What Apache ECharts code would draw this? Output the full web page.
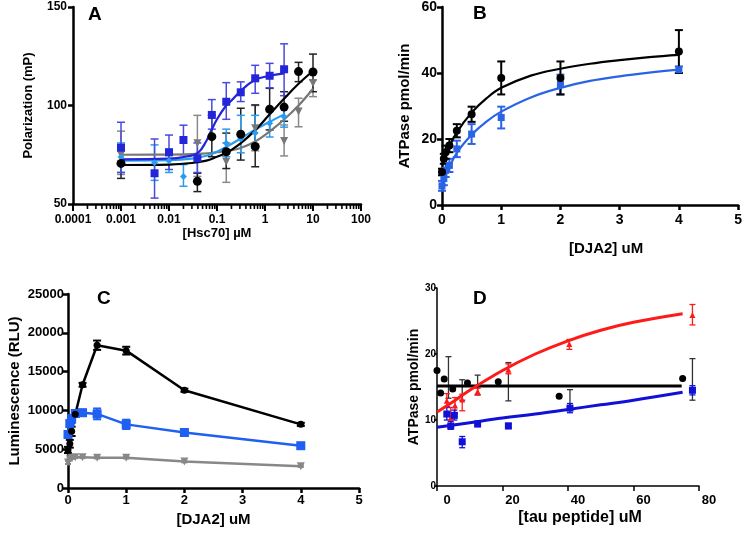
<!DOCTYPE html>
<html><head><meta charset="utf-8">
<script src="https://cdn.jsdelivr.net/npm/echarts@6/dist/echarts.min.js"></script>
<style>html,body{margin:0;padding:0;background:#fff}#c{width:745px;height:538px}</style>
</head><body><div id="c"></div>
<script>
// ---------- Panel A : Polarization vs [Hsc70] ----------
const aTickLabels = ['0.0001','0.001','0.01','0.1','1','10','100'];
const aMinorTicks = [0.0002,0.0003,0.0004,0.0005,0.0006,0.0007,0.0008,0.0009,
  0.002,0.003,0.004,0.005,0.006,0.007,0.008,0.009,
  0.02,0.03,0.04,0.05,0.06,0.07,0.08,0.09,
  0.2,0.3,0.4,0.5,0.6,0.7,0.8,0.9,
  2,3,4,5,6,7,8,9, 20,30,40,50,60,70,80,90];
const aBlueX  = [0.001,0.005,0.01,0.02,0.039,0.078,0.156,0.3125,0.625,1.25,2.5];
const aBlueY  = [78.6,65.6,76.2,82.5,73.2,95.2,101.9,106.7,113.8,115.1,118.4];
const aBlueLo = [66,53,67.5,75,66,88,93,102,106.2,109,105];
const aBlueHi = [91.5,83,85,90,81,103,111.6,112,120.4,121.4,131.3];
const aLtX  = [0.001,0.005,0.01,0.02,0.156,0.3125,0.625,1.25,2.5];
const aLtY  = [73.8,71,72,64,80.8,83,86,91,94.3];
const aLtLo = [66,62,66,59,74,76,79,84,89];
const aLtHi = [81,80,78,70,88,95,95,97,99];
const aBlkX  = [0.001,0.039,0.078,0.156,0.3125,0.625,1.25,2.5,5,10];
const aBlkY  = [70.6,61.5,84.2,76.5,85.4,79.2,98.1,99.2,117.2,117];
const aBlkLo = [63,56.3,74,68,72.3,68.9,87.6,92,112.1,107];
const aBlkHi = [78,65.6,95,86,98.6,100.3,108.7,107,121.9,126.1];
const aGryX  = [0.001,0.039,0.156,0.625,2.5,5,10];
const aGryY  = [75,80.8,71.5,88.4,82,96.9,111.3];
const aGryLo = [65,64,61,77,74.4,89.2,104.5];
const aGryHi = [87,95,81,100,90.1,103.7,113];
// fitted curves
const aBlueFitX = [0.001,0.01,0.02,0.04,0.06,0.075,0.1,0.15,0.2,0.3,0.6,1.2,2.5];
const aBlueFitY = [72.7,73,73.8,76,82,87,93,99.5,102.5,107,112.8,115,116.3];
const aLtFitX = [0.001,0.01,0.03,0.06,0.1,0.2,0.3,0.6,1.2,2.5];
const aLtFitY = [72,72.2,73,74.5,76.5,80.5,83,87.5,91.5,95.5];
const aBlkFitX = [0.001,0.01,0.03,0.06,0.1,0.15,0.2,0.3,0.6,1.2,2.4,5,10];
const aBlkFitY = [69.8,70,70.8,72,74,75.7,77.5,80.5,87,95,103,111,117.5];
const aGryFitX = [0.001,0.01,0.05,0.1,0.2,0.3,0.6,1.2,2.4,5,10];
const aGryFitY = [75,75.1,75.6,76.3,77.3,78.3,81.5,86.5,92.5,100,108.5];

// ---------- Panel B : ATPase vs [DJA2] ----------
const bX = [0,0.03125,0.0625,0.125,0.25,0.5,1,2,4];
const bBlkY  = [10,14,16,18,22.5,27.5,38.5,38.5,46.5];
const bBlkEr = [1,1.5,2,2,2,2.3,5,5,6.5];
const bBluY  = [5.8,8,10.5,12,17,21.5,26.5,36.5,41];
const bBluEr = [1.5,2,2,2,2.5,3,3.3,3,1];
const bFitX = [0,0.05,0.1,0.25,0.5,0.75,1,1.5,2,2.5,3,3.5,4];
const bBlkFit = [12,14.5,16.8,22,28,32.3,35.5,39.2,41.3,42.8,43.9,44.8,45.5];
const bBluFit = [5.5,8,10.5,15.8,21.3,25.3,28.3,32.6,35.5,37.6,39,40.1,41];

// ---------- Panel C : Luminescence vs [DJA2] ----------
const cX = [0,0.03125,0.0625,0.125,0.25,0.5,1,2,4];
const cBlkY  = [4900,5700,7300,9500,13300,18400,17700,12600,8200];
const cBlkEr = [400,500,600,300,250,600,500,200,200];
const cBluY  = [6900,8300,8900,9600,9700,9550,8200,7150,5450];
const cBluEr = [300,400,500,400,400,700,600,300,300];
const cGryY  = [3300,3700,3900,3950,3950,3900,3900,3400,2800];
const cGryEr = [200,150,150,100,100,100,100,100,100];

// ---------- Panel D : ATPase vs [tau peptide] ----------
const dBlkX = [0,1.1,2.2,4.8,9.3,18.7,37.3,75];
const dBlkY = [17.5,14.1,16.2,14.7,15.6,15.8,13.6,16.3];
const dBlkErX  = [3.5,7.7,12.4,21.8,40.6,78];
const dBlkErLo = [13.3,13.0,13.8,12.9,11.5,13.0];
const dBlkErHi = [19.6,16.1,16.8,18.7,14.6,19.3];
const dRedX  = [3.0,4.2,5.5,7.7,12.4,21.8,40.4,78];
const dRedY  = [12.9,10.3,12.2,13.1,14.3,17.6,21.5,25.9];
const dRedLo = [11.9,8.7,11.0,11.4,13.8,17.0,20.7,24.4];
const dRedHi = [14.0,11.9,13.4,13.9,14.8,18.5,22.2,27.5];
const dBluX  = [3.0,4.2,5.3,7.7,12.4,21.8,40.6,78];
const dBluY  = [10.9,9.1,10.7,6.7,9.4,9.1,11.8,14.5];
const dBluLo = [10.0,8.6,10.0,5.8,9.0,8.7,11.1,13.8];
const dBluHi = [12.0,9.8,11.5,7.5,9.8,9.5,12.5,15.2];
const dBlkFitX = [0,74.7];
const dBlkFitY = [15.15,15.15];
const dRedFitX = [0,5,10,20,30,40,50,60,75];
const dRedFitY = [11.2,12.8,14.5,17.5,20,22,23.6,24.8,26.1];
const dBluFitX = [0,10,20,30,40,50,60,75];
const dBluFitY = [8.9,9.6,10.3,10.9,11.6,12.3,13,14.2];

// ---------- helpers ----------
const FONT = 'Liberation Sans';
const zip = (a,b) => a.map((v,i)=>[v,b[i]]);
const zip3 = (a,b,c) => a.map((v,i)=>[v,b[i],c[i]]);
function errSeries(gi, data, color, cap, lw){
  return {type:'custom', xAxisIndex:gi, yAxisIndex:gi, data, z:3, clip:false,
    encode:{x:0,y:[1,2]}, itemStyle:{color}, silent:true,
    renderItem:function(params, api){
      const x=api.value(0), lo=api.value(1), hi=api.value(2);
      const p1=api.coord([x,lo]), p2=api.coord([x,hi]);
      const st={stroke:color, lineWidth:lw};
      return {type:'group', children:[
        {type:'line', shape:{x1:p1[0],y1:p1[1],x2:p2[0],y2:p2[1]}, style:st},
        {type:'line', shape:{x1:p1[0]-cap,y1:p1[1],x2:p1[0]+cap,y2:p1[1]}, style:st},
        {type:'line', shape:{x1:p2[0]-cap,y1:p2[1],x2:p2[0]+cap,y2:p2[1]}, style:st}
      ]};
    }};
}
// minor ticks of the log axis, placed through the axis scale
function minorTickSeries(gi, values, yBase, len){
  return {type:'custom', xAxisIndex:gi, yAxisIndex:gi, data:values.map(v=>[v,yBase]), z:10, clip:false, silent:true,
    encode:{x:0,y:1},
    renderItem:function(params, api){
      const p=api.coord([api.value(0), api.value(1)]);
      return {type:'group', children:[
        {type:'line', shape:{x1:p[0],y1:p[1],x2:p[0],y2:p[1]+len}, style:{stroke:'#000', lineWidth:1.6}}]};
    }};
}
function pts(gi, data, color, symbol, size){
  return {type:'scatter', xAxisIndex:gi, yAxisIndex:gi, data, symbol, symbolSize:size,
    itemStyle:{color, opacity:1}, z:5, silent:true};
}
function curve(gi, data, color, lw){
  return {type:'line', xAxisIndex:gi, yAxisIndex:gi, data, smooth:0.4, showSymbol:false,
    symbol:'none', lineStyle:{color, width:lw}, z:4, silent:true};
}
function pmErr(x,y,e){ return x.map((v,i)=>[v,y[i]-e[i],y[i]+e[i]]); }

const BLUE_A='#2424d8', LT_A='#2b9bf0', GRY='#777777', BLK='#000000';
const BLUE_B='#2b63e6', BLUE_C='#1f5ff2', BLUE_D='#1010d6', RED_D='#ff1a1a';

function axisBase(lw){
  return {axisLine:{show:true, onZero:false, lineStyle:{color:'#000', width:lw}},
          axisTick:{show:true, length:5, lineStyle:{color:'#000', width:lw}},
          splitLine:{show:false}};
}
const plain = (v) => String(v);
const lab = (sz) => ({color:'#000', fontFamily:FONT, fontWeight:'bold', fontSize:sz, formatter:plain});
const nameStyle = (sz) => ({color:'#000', fontFamily:FONT, fontWeight:'bold', fontSize:sz});

const option = {
  animation:false,
  backgroundColor:'#fff',
  grid:[
    {left:73, top:7, width:288, height:197},
    {left:442, top:7, width:300, height:198},
    {left:68, top:294, width:291, height:194},
    {left:437, top:288, width:262, height:198}
  ],
  xAxis:[
    Object.assign(axisBase(2.5), {gridIndex:0, type:'log', logBase:10, min:0.0001, max:100,
      axisTick:{show:true, length:7, lineStyle:{color:'#000', width:2}},
      axisLabel:Object.assign(lab(12), {margin:10, formatter:(v)=>{const i=Math.round(Math.log10(v))+4; return aTickLabels[i]||'';}}),
      name:'[Hsc70] µM', nameLocation:'middle', nameGap:23, nameTextStyle:nameStyle(13)}),
    Object.assign(axisBase(2.5), {gridIndex:1, type:'value', min:0, max:5, interval:1,
      axisLabel:Object.assign(lab(14), {margin:8}),
      name:'[DJA2] uM', nameLocation:'middle', nameGap:36, nameTextStyle:Object.assign(nameStyle(15),{padding:[0,0,0,32]})}),
    Object.assign(axisBase(2.5), {gridIndex:2, type:'value', min:0, max:5, interval:1,
      axisLabel:Object.assign(lab(13), {margin:6}),
      name:'[DJA2] uM', nameLocation:'middle', nameGap:24, nameTextStyle:nameStyle(15)}),
    Object.assign(axisBase(1.5), {gridIndex:3, type:'value', min:0, max:80, interval:20,
      axisLabel:Object.assign(lab(13), {margin:8, padding:[0,0,0,20]}),
      name:'[tau peptide] uM', nameLocation:'middle', nameGap:24, nameTextStyle:Object.assign(nameStyle(16),{padding:[0,0,0,24]})})
  ],
  yAxis:[
    Object.assign(axisBase(2.5), {gridIndex:0, type:'value', min:50, max:150, interval:50,
      axisLabel:Object.assign(lab(12), {margin:6}),
      name:'Polarization (mP)', nameLocation:'middle', nameGap:38, nameTextStyle:nameStyle(13)}),
    Object.assign(axisBase(2.5), {gridIndex:1, type:'value', min:0, max:60, interval:20,
      axisLabel:Object.assign(lab(14), {margin:5}),
      name:'ATPase pmol/min', nameLocation:'middle', nameGap:30, nameTextStyle:nameStyle(15)}),
    Object.assign(axisBase(2.5), {gridIndex:2, type:'value', min:0, max:25000, interval:5000,
      axisLabel:Object.assign(lab(13), {margin:4}),
      name:'Luminescence (RLU)', nameLocation:'middle', nameGap:46, nameTextStyle:nameStyle(15)}),
    Object.assign(axisBase(1.5), {gridIndex:3, type:'value', min:0, max:30, interval:10,
      axisTick:{show:true, length:3, lineStyle:{color:'#000', width:1.5}},
      axisLabel:Object.assign(lab(10), {margin:1}),
      name:'ATPase pmol/min', nameLocation:'middle', nameGap:12, nameTextStyle:nameStyle(14)})
  ],
  graphic:[
    {type:'text', left:88, top:5, style:{text:'A', fontFamily:FONT, fontWeight:'bold', fontSize:19, fill:'#000'}},
    {type:'text', left:473, top:4, style:{text:'B', fontFamily:FONT, fontWeight:'bold', fontSize:19, fill:'#000'}},
    {type:'text', left:97, top:289, style:{text:'C', fontFamily:FONT, fontWeight:'bold', fontSize:19, fill:'#000'}},
    {type:'text', left:473, top:289, style:{text:'D', fontFamily:FONT, fontWeight:'bold', fontSize:19, fill:'#000'}}
  ],
  series:[
    // A
    minorTickSeries(0, aMinorTicks, 50, 5),
    errSeries(0, zip3(aGryX,aGryLo,aGryHi), '#8a8a8a', 4, 1.5),
    errSeries(0, zip3(aBlkX,aBlkLo,aBlkHi), '#222', 4, 1.5),
    errSeries(0, zip3(aLtX,aLtLo,aLtHi), LT_A, 4, 1.5),
    errSeries(0, zip3(aBlueX,aBlueLo,aBlueHi), '#4a4ae0', 4, 1.5),
    curve(0, zip(aGryFitX,aGryFitY), GRY, 2.2),
    curve(0, zip(aLtFitX,aLtFitY), LT_A, 2.2),
    curve(0, zip(aBlkFitX,aBlkFitY), BLK, 2.2),
    curve(0, zip(aBlueFitX,aBlueFitY), BLUE_A, 2.2),
    Object.assign(pts(0, zip(aGryX,aGryY), GRY, 'triangle', 8), {symbolRotate:180}),
    pts(0, zip(aLtX,aLtY), LT_A, 'diamond', 7),
    pts(0, zip(aBlkX,aBlkY), BLK, 'circle', 9),
    pts(0, zip(aBlueX,aBlueY), BLUE_A, 'rect', 8),
    // B
    errSeries(1, pmErr(bX,bBluY,bBluEr), BLUE_B, 4, 2),
    errSeries(1, pmErr(bX,bBlkY,bBlkEr), BLK, 4, 2),
    curve(1, zip(bFitX,bBluFit), BLUE_B, 2.2),
    curve(1, zip(bFitX,bBlkFit), BLK, 2.2),
    pts(1, zip(bX,bBluY), BLUE_B, 'rect', 7),
    pts(1, zip(bX,bBlkY), BLK, 'circle', 8),
    // C
    errSeries(2, pmErr(cX,cGryY,cGryEr), '#888', 3, 2),
    errSeries(2, pmErr(cX,cBluY,cBluEr), BLUE_C, 4, 2),
    errSeries(2, pmErr(cX,cBlkY,cBlkEr), BLK, 4, 2),
    {type:'line', xAxisIndex:2, yAxisIndex:2, data:zip(cX,cGryY), symbol:'triangle', symbolRotate:180, symbolSize:8,
      lineStyle:{color:'#888', width:2.5}, itemStyle:{color:'#888'}, z:4},
    {type:'line', xAxisIndex:2, yAxisIndex:2, data:zip(cX,cBluY), symbol:'rect', symbolSize:9,
      lineStyle:{color:BLUE_C, width:2.5}, itemStyle:{color:BLUE_C}, z:4},
    {type:'line', xAxisIndex:2, yAxisIndex:2, data:zip(cX,cBlkY), symbol:'circle', symbolSize:7,
      lineStyle:{color:BLK, width:2.5}, itemStyle:{color:BLK}, z:4},
    // D
    errSeries(3, zip3(dBlkErX,dBlkErLo,dBlkErHi), '#333', 3, 1.3),
    errSeries(3, zip3(dRedX,dRedLo,dRedHi), RED_D, 3, 1.3),
    errSeries(3, zip3(dBluX,dBluLo,dBluHi), BLUE_D, 3, 1.3),
    curve(3, zip(dBlkFitX,dBlkFitY), BLK, 3),
    curve(3, zip(dRedFitX,dRedFitY), RED_D, 3),
    curve(3, zip(dBluFitX,dBluFitY), BLUE_D, 3),
    pts(3, zip(dBlkX,dBlkY), BLK, 'circle', 7),
    pts(3, zip(dRedX,dRedY), RED_D, 'triangle', 6),
    pts(3, zip(dBluX,dBluY), BLUE_D, 'rect', 7)
  ]
};
const chart = echarts.init(document.getElementById('c'), null, {renderer:'canvas'});
chart.setOption(option);
</script></body></html>
